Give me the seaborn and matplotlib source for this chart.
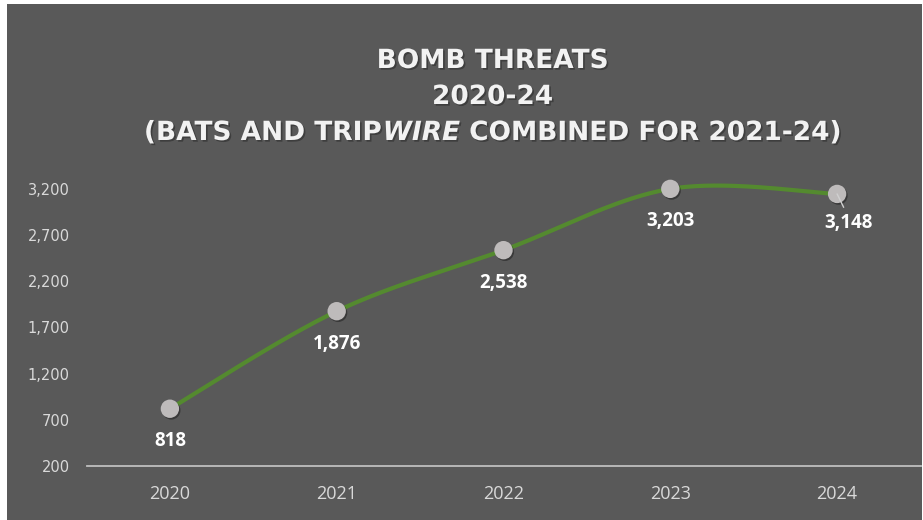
import numpy as np
import pandas as pd
import matplotlib
matplotlib.use("Agg")
import matplotlib.pyplot as plt
import matplotlib.patheffects as pe
from matplotlib.patches import Rectangle
import seaborn as sns

# ---- data ----
years = ["2020", "2021", "2022", "2023", "2024"]
threats = [818, 1876, 2538, 3203, 3148]
y_ticks = [200, 700, 1200, 1700, 2200, 2700, 3200]
title_lines = ["BOMB THREATS", "2020-24"]
subtitle_parts = [("(BATS AND TRIP", "normal"), ("WIRE", "italic"),
                  ("COMBINED FOR 2021-24)", "normal")]

BG = "#595959"
GREEN = "#548A2F"
MARKER = "#BEBBBB"
TEXT_LIGHT = "#D9D9D9"
LABEL_FONT = "Open Sans"
TITLE_FONT = "DejaVu Sans"
TITLE_SIZE = 19

sns.set_theme(style="white")
plt.rcParams["font.family"] = [LABEL_FONT, "DejaVu Sans"]

W, H = 923, 520
fig = plt.figure(figsize=(W / 100, H / 100), dpi=100, facecolor="white")
fig.patches.append(Rectangle((7 / W, 0), (922 - 7) / W, (H - 4) / H,
                             transform=fig.transFigure, facecolor=BG,
                             edgecolor="none", zorder=-10))

ax = fig.add_axes([86.5 / W, (H - 465.7) / H, 834 / W, 295.0 / H])
ax.set_facecolor("none")

df = pd.DataFrame({"pos": np.arange(len(years)), "year": years, "threats": threats})

# smoothed line: cubic Bezier segments through the points (Catmull-Rom tangents)
P = df[["pos", "threats"]].to_numpy(dtype=float)
ext = np.vstack([P[0], P, P[-1]])
t = np.linspace(0, 1, 60)[:, None]
segs = []
for i in range(len(P) - 1):
    p0, p3 = P[i], P[i + 1]
    c1 = p0 + (ext[i + 2] - ext[i]) / 6
    c2 = p3 - (ext[i + 3] - ext[i + 1]) / 6
    seg = (1 - t) ** 3 * p0 + 3 * (1 - t) ** 2 * t * c1 + 3 * (1 - t) * t ** 2 * c2 + t ** 3 * p3
    segs.append(seg if i == 0 else seg[1:])
curve = pd.DataFrame(np.vstack(segs), columns=["pos", "threats"])

sns.lineplot(data=curve, x="pos", y="threats", sort=False, estimator=None,
             color=GREEN, linewidth=3.0, ax=ax, zorder=2)
sns.scatterplot(data=df, x="pos", y="threats", s=175, color=MARKER,
                edgecolor="none", ax=ax, zorder=4, clip_on=False,
                path_effects=[pe.SimplePatchShadow(offset=(1, -1.2), shadow_rgbFace="black", alpha=0.35),
                              pe.Normal()])

# data labels
for i, v in enumerate(threats):
    if i == len(threats) - 1:
        ax.annotate(f"{v:,}", (i, v), xytext=(8.5, -21), textcoords="offset points",
                    ha="center", va="center", fontsize=13.5, fontweight="bold",
                    color="white", zorder=5,
                    arrowprops=dict(arrowstyle="-", color="#D0D0D0", lw=1.0,
                                    shrinkA=2, shrinkB=0, relpos=(0.45, 1.0)))
    else:
        ax.annotate(f"{v:,}", (i, v), xytext=(0, -23.5), textcoords="offset points",
                    ha="center", va="center", fontsize=13.5, fontweight="bold",
                    color="white", zorder=5)

ax.set_xlim(-0.5, len(years) - 0.5)
ax.set_ylim(200, 3400)
ax.set_xticks(df["pos"])
ax.set_xticklabels(years)
ax.set_yticks(y_ticks)
ax.set_yticklabels([f"{v:,}" for v in y_ticks], fontfamily="DejaVu Sans")
ax.set_xlabel("")
ax.set_ylabel("")
ax.tick_params(axis="x", length=0, pad=14, labelsize=13, labelcolor=TEXT_LIGHT)
ax.tick_params(axis="y", length=0, pad=12, labelsize=10.5, labelcolor=TEXT_LIGHT)
for s in ["top", "right", "left"]:
    ax.spines[s].set_visible(False)
ax.spines["bottom"].set_color("#BFBFBF")
ax.spines["bottom"].set_linewidth(1.3)
ax.grid(False)

# ---- title (three centred lines, italic word in the last one) ----
title_kw = dict(fontsize=TITLE_SIZE, fontweight="bold", color="#F2F2F2",
                family=TITLE_FONT, va="center", transform=fig.transFigure,
                path_effects=[pe.withSimplePatchShadow(offset=(1.2, -1.2),
                                                       shadow_rgbFace="black", alpha=0.3)])
cx = 492.5 / W
for line, ypx in zip(title_lines, [61, 97]):
    fig.text(cx, 1 - ypx / H, line, ha="center", **title_kw)

renderer = fig.canvas.get_renderer()
texts = []
for s, style in subtitle_parts:
    texts.append(fig.text(0, 1 - 133 / H, s, ha="left", style=style, **title_kw))
probe1 = fig.text(0, 0, "A A", fontsize=TITLE_SIZE, fontweight="bold", family=TITLE_FONT)
probe2 = fig.text(0, 0, "AA", fontsize=TITLE_SIZE, fontweight="bold", family=TITLE_FONT)
space_w = probe1.get_window_extent(renderer).width - probe2.get_window_extent(renderer).width
probe1.remove()
probe2.remove()
widths = [tx.get_window_extent(renderer).width for tx in texts]
gaps = [1.5, space_w]
total = sum(widths) + sum(gaps)
x = cx * W - total / 2
for k, tx in enumerate(texts):
    tx.set_x(x / W)
    x += widths[k] + (gaps[k] if k < len(gaps) else 0)

fig.savefig("out.png", dpi=100, facecolor=fig.get_facecolor())
